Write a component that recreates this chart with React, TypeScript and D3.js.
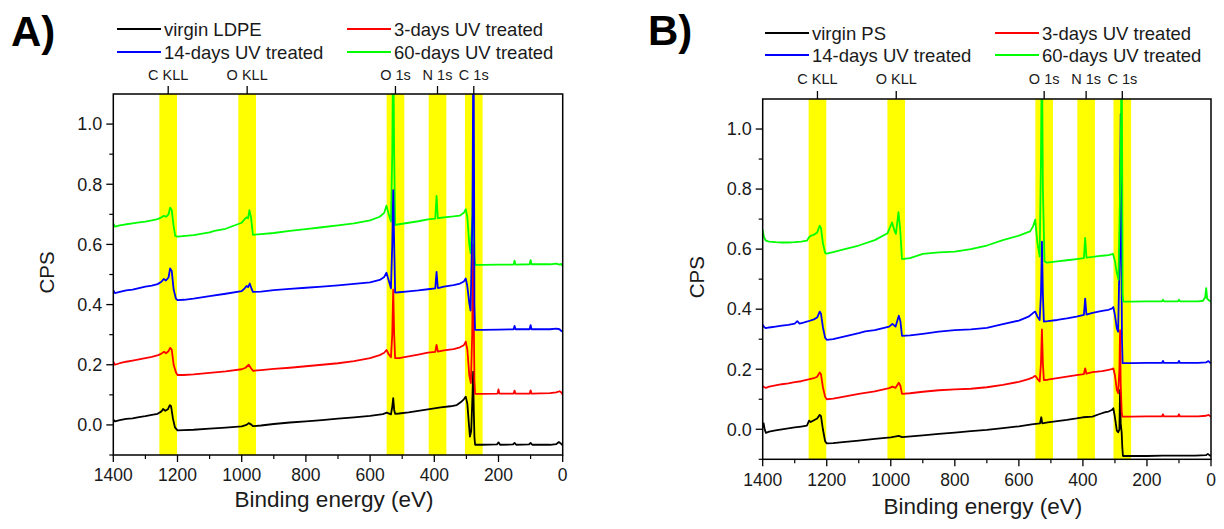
import React from "react";
import * as d3 from "d3";

type P = [number, number];

// ---------- Panel A: LDPE ----------
const ldpeVirgin: P[] = [[1400,0.018],[1395,0.012],[1380,0.016],[1360,0.02],[1340,0.022],[1320,0.026],[1300,0.029],[1280,0.033],[1262,0.037],[1250,0.045],[1245,0.053],[1238,0.047],[1230,0.052],[1224,0.066],[1220,0.062],[1214,0.02],[1208,-0.008],[1200,-0.018],[1180,-0.017],[1150,-0.016],[1100,-0.012],[1050,-0.009],[1000,-0.005],[985,0.0],[978,0.006],[970,0.001],[965,-0.004],[940,-0.002],[900,0.003],[850,0.008],[800,0.012],[750,0.016],[700,0.021],[650,0.025],[600,0.03],[560,0.036],[548,0.041],[535,0.035],[531,0.06],[528,0.089],[525,0.05],[522,0.037],[510,0.038],[480,0.042],[450,0.047],[420,0.052],[400,0.055],[380,0.058],[350,0.062],[330,0.066],[318,0.075],[308,0.085],[302,0.094],[297,0.07],[292,0.0],[289,-0.039],[285,-0.02],[281,0.1],[279,0.177],[277,0.05],[275,-0.04],[273,-0.066],[250,-0.066],[205,-0.065],[200,-0.058],[195,-0.066],[155,-0.065],[150,-0.06],[145,-0.066],[105,-0.065],[100,-0.06],[95,-0.066],[40,-0.066],[20,-0.064],[12,-0.057],[8,-0.06],[0,-0.068]];
const ldpeUv3: P[] = [[1400,0.21],[1395,0.2],[1380,0.205],[1360,0.21],[1340,0.214],[1320,0.218],[1300,0.222],[1280,0.226],[1260,0.232],[1250,0.237],[1242,0.243],[1236,0.238],[1228,0.245],[1223,0.256],[1218,0.25],[1212,0.2],[1205,0.175],[1200,0.166],[1180,0.166],[1150,0.168],[1100,0.173],[1050,0.178],[1000,0.185],[988,0.19],[978,0.2],[972,0.19],[965,0.18],[940,0.182],[900,0.186],[850,0.19],[800,0.195],[750,0.2],[700,0.205],[650,0.212],[600,0.222],[570,0.232],[556,0.24],[549,0.249],[542,0.235],[535,0.225],[531,0.3],[528,0.45],[525,0.3],[522,0.222],[510,0.222],[480,0.228],[450,0.234],[420,0.24],[397,0.243],[393,0.266],[389,0.244],[370,0.248],[340,0.252],[320,0.258],[308,0.265],[302,0.277],[297,0.25],[291,0.165],[286,0.139],[282,0.3],[279,0.6],[277,0.35],[275,0.15],[273,0.103],[250,0.103],[203,0.104],[200,0.118],[197,0.104],[153,0.104],[150,0.114],[147,0.104],[103,0.104],[100,0.115],[97,0.104],[40,0.106],[20,0.108],[10,0.112],[4,0.108],[0,0.1]];
const ldpeUv14: P[] = [[1400,0.448],[1395,0.438],[1380,0.442],[1360,0.447],[1340,0.45],[1320,0.455],[1300,0.46],[1280,0.463],[1262,0.468],[1250,0.476],[1243,0.485],[1236,0.48],[1228,0.49],[1223,0.52],[1218,0.512],[1212,0.45],[1205,0.42],[1200,0.415],[1180,0.416],[1150,0.42],[1100,0.428],[1050,0.436],[1000,0.445],[990,0.455],[985,0.462],[980,0.458],[975,0.47],[970,0.455],[965,0.442],[940,0.443],[900,0.448],[850,0.452],[800,0.456],[750,0.46],[700,0.464],[650,0.469],[600,0.474],[570,0.482],[556,0.492],[549,0.506],[542,0.48],[535,0.454],[531,0.6],[528,0.78],[525,0.6],[522,0.44],[510,0.441],[480,0.444],[450,0.447],[420,0.451],[397,0.454],[393,0.509],[389,0.455],[370,0.46],[340,0.465],[320,0.47],[308,0.477],[302,0.487],[297,0.46],[291,0.405],[287,0.38],[281,0.7],[278,1.4],[276,0.8],[275,0.4],[273,0.316],[250,0.316],[200,0.317],[153,0.318],[150,0.329],[147,0.318],[103,0.318],[100,0.332],[97,0.318],[40,0.318],[20,0.32],[10,0.318],[4,0.312],[0,0.31]];
const ldpeUv60: P[] = [[1400,0.67],[1395,0.659],[1380,0.663],[1360,0.667],[1340,0.67],[1320,0.673],[1300,0.676],[1280,0.68],[1262,0.684],[1250,0.69],[1242,0.695],[1235,0.692],[1228,0.7],[1223,0.722],[1218,0.714],[1212,0.66],[1207,0.628],[1200,0.626],[1150,0.631],[1100,0.64],[1085,0.645],[1050,0.652],[1000,0.672],[990,0.685],[985,0.69],[980,0.687],[976,0.714],[971,0.69],[965,0.632],[940,0.634],[900,0.638],[850,0.645],[800,0.651],[750,0.657],[700,0.663],[650,0.67],[600,0.68],[570,0.692],[556,0.705],[549,0.729],[542,0.7],[535,0.676],[531,0.9],[528,1.3],[525,0.9],[522,0.665],[510,0.667],[480,0.672],[450,0.677],[420,0.683],[397,0.686],[393,0.761],[389,0.687],[370,0.69],[340,0.693],[320,0.696],[308,0.705],[302,0.717],[297,0.69],[291,0.6],[287,0.571],[281,0.7],[279,0.9],[277,0.7],[275,0.56],[273,0.532],[250,0.532],[200,0.533],[153,0.533],[150,0.546],[147,0.533],[103,0.534],[100,0.548],[97,0.534],[40,0.534],[20,0.536],[10,0.533],[4,0.535],[0,0.528]];

// ---------- Panel B: PS ----------
const psVirgin: P[] = [[1400,0.005],[1397,0.02],[1394,0.0],[1390,-0.012],[1380,-0.008],[1360,-0.004],[1340,0.0],[1320,0.003],[1300,0.006],[1280,0.009],[1262,0.012],[1255,0.029],[1250,0.024],[1240,0.03],[1230,0.036],[1222,0.048],[1218,0.044],[1212,0.0],[1205,-0.04],[1200,-0.047],[1180,-0.046],[1150,-0.043],[1100,-0.038],[1050,-0.032],[1000,-0.027],[975,-0.022],[965,-0.026],[900,-0.02],[850,-0.015],[800,-0.011],[750,-0.006],[700,-0.002],[650,0.004],[600,0.01],[560,0.016],[534,0.02],[530,0.04],[527,0.02],[510,0.023],[480,0.027],[450,0.031],[420,0.036],[400,0.04],[370,0.042],[350,0.05],[330,0.057],[320,0.059],[310,0.064],[305,0.07],[300,0.04],[294,-0.005],[290,-0.01],[286,0.0],[284,0.131],[282,0.02],[279,-0.01],[277,-0.06],[275,-0.089],[250,-0.089],[200,-0.089],[150,-0.088],[100,-0.088],[50,-0.088],[15,-0.086],[10,-0.082],[5,-0.086],[0,-0.089]];
const psUv3: P[] = [[1400,0.144],[1395,0.14],[1390,0.138],[1380,0.142],[1360,0.146],[1340,0.15],[1320,0.153],[1300,0.157],[1280,0.16],[1260,0.165],[1240,0.17],[1230,0.175],[1222,0.189],[1218,0.183],[1212,0.14],[1205,0.108],[1200,0.1],[1180,0.102],[1150,0.108],[1100,0.118],[1050,0.126],[1005,0.137],[995,0.142],[985,0.138],[975,0.155],[970,0.145],[965,0.118],[940,0.12],[900,0.125],[850,0.13],[800,0.133],[750,0.135],[700,0.14],[650,0.148],[600,0.158],[570,0.167],[556,0.173],[549,0.178],[542,0.168],[535,0.159],[531,0.22],[528,0.333],[525,0.22],[522,0.164],[510,0.165],[480,0.17],[450,0.175],[420,0.18],[397,0.184],[393,0.203],[389,0.185],[370,0.19],[340,0.194],[320,0.198],[310,0.2],[305,0.203],[300,0.18],[294,0.13],[290,0.12],[286,0.2],[284,0.33],[282,0.15],[279,0.06],[277,0.042],[250,0.042],[200,0.043],[153,0.043],[150,0.05],[147,0.043],[103,0.043],[100,0.05],[97,0.043],[40,0.043],[15,0.045],[8,0.048],[3,0.044],[0,0.042]];
const psUv14: P[] = [[1400,0.348],[1395,0.34],[1390,0.337],[1380,0.339],[1360,0.342],[1340,0.345],[1320,0.348],[1300,0.352],[1292,0.36],[1285,0.352],[1270,0.356],[1260,0.359],[1240,0.366],[1230,0.372],[1222,0.392],[1218,0.385],[1212,0.34],[1205,0.305],[1200,0.298],[1180,0.3],[1150,0.308],[1100,0.32],[1080,0.326],[1050,0.33],[1005,0.342],[995,0.351],[985,0.342],[975,0.378],[970,0.36],[965,0.311],[940,0.313],[900,0.318],[850,0.325],[800,0.33],[750,0.333],[700,0.338],[650,0.35],[600,0.362],[570,0.375],[556,0.387],[549,0.392],[542,0.375],[535,0.364],[531,0.45],[528,0.625],[525,0.45],[522,0.359],[510,0.36],[480,0.364],[450,0.369],[420,0.375],[397,0.381],[393,0.435],[389,0.382],[370,0.388],[340,0.394],[320,0.398],[310,0.402],[305,0.407],[300,0.38],[294,0.335],[290,0.325],[285,0.6],[282,1.05],[280,0.6],[278,0.3],[276,0.22],[250,0.22],[200,0.221],[153,0.221],[150,0.228],[147,0.221],[103,0.221],[100,0.228],[97,0.221],[40,0.221],[15,0.223],[8,0.227],[3,0.222],[0,0.22]];
const psUv60: P[] = [[1400,0.664],[1396,0.64],[1390,0.628],[1380,0.625],[1360,0.623],[1340,0.622],[1320,0.622],[1300,0.623],[1280,0.625],[1262,0.628],[1255,0.64],[1248,0.645],[1240,0.648],[1230,0.655],[1222,0.678],[1218,0.67],[1212,0.62],[1205,0.587],[1200,0.585],[1180,0.59],[1150,0.598],[1100,0.612],[1050,0.63],[1010,0.653],[996,0.689],[988,0.66],[984,0.651],[976,0.723],[971,0.67],[965,0.567],[940,0.57],[900,0.584],[850,0.589],[800,0.592],[750,0.6],[700,0.612],[650,0.63],[600,0.645],[565,0.659],[556,0.675],[549,0.698],[542,0.62],[535,0.575],[531,0.9],[528,1.3],[525,0.8],[520,0.56],[513,0.555],[480,0.559],[450,0.563],[420,0.567],[397,0.57],[393,0.637],[389,0.572],[370,0.574],[340,0.578],[320,0.58],[306,0.584],[300,0.56],[294,0.52],[289,0.498],[282,0.9],[279,1.3],[277,0.8],[276,0.45],[274,0.425],[250,0.425],[200,0.426],[153,0.426],[150,0.432],[147,0.426],[103,0.426],[100,0.432],[97,0.426],[40,0.426],[25,0.428],[18,0.44],[15,0.47],[12,0.435],[5,0.428],[0,0.425]];

// ---------- shared ----------
const peakLabels = ["C KLL", "O KLL", "O 1s", "N 1s", "C 1s"];
const peakCenters = [1229, 983, 521, 390, 277];
const bandHalfWidth = 27.5;
const xMajorTicks = [1400, 1200, 1000, 800, 600, 400, 200, 0];
const xMinorTicks = [1300, 1100, 900, 700, 500, 300, 100];
const yMajorTicks = [0.0, 0.2, 0.4, 0.6, 0.8, 1.0];
const yMinorTicks = [-0.1, 0.1, 0.3, 0.5, 0.7, 0.9];
const xDomain: [number, number] = [1400, 0];
const yDomain: [number, number] = [-0.1, 1.1];

const legendA = ["virgin LDPE", "3-days UV treated", "14-days UV treated", "60-days UV treated"];
const legendB = ["virgin PS", "3-days UV treated", "14-days UV treated", "60-days UV treated"];
const colors = ["#000000", "#ff0000", "#0000ff", "#00ff00"];

const FONT = "'Liberation Sans', Arial, Helvetica, sans-serif";

type PanelProps = {
  id: string;
  letter: string;
  series: P[][];
  order: number[];
  legend: string[];
  box: { l: number; r: number; t: number; b: number };
  letterPos: [number, number];
  legendRows: [number, number];
  legendCols: [number, number];
  labelY: number;
  xLabelY: number;
  titleY: number;
  cpsX: number;
};

function Panel(p: PanelProps) {
  const { box } = p;
  const x = d3.scaleLinear().domain(xDomain).range([box.l, box.r]);
  const y = d3.scaleLinear().domain(yDomain).range([box.b, box.t]);
  const line = d3
    .line<P>()
    .x((d) => x(d[0]))
    .y((d) => y(d[1]));
  const clipId = `clip-${p.id}`;
  const fmt = d3.format(".1f");
  return (
    <g>
      <defs>
        <clipPath id={clipId}>
          <rect x={box.l} y={box.t} width={box.r - box.l} height={box.b - box.t} />
        </clipPath>
      </defs>
      <text x={p.letterPos[0]} y={p.letterPos[1]} fontFamily={FONT} fontWeight="bold" fontSize={42}>
        {p.letter}
      </text>
      {p.legend.map((name, i) => {
        const cx = p.legendCols[i % 2];
        const cy = p.legendRows[Math.floor(i / 2)];
        return (
          <g key={name + i}>
            <line x1={cx} x2={cx + 44} y1={cy} y2={cy} stroke={colors[i]} strokeWidth={1.8} />
            <text x={cx + 47} y={cy + 6.5} fontFamily={FONT} fontSize={18.5} fill="#1a1a1a">
              {name}
            </text>
          </g>
        );
      })}
      {peakCenters.map((c, i) => (
        <rect
          key={"band" + i}
          x={x(c + bandHalfWidth)}
          y={box.t}
          width={x(c - bandHalfWidth) - x(c + bandHalfWidth)}
          height={box.b - box.t}
          fill="#ffff00"
        />
      ))}
      <g clipPath={`url(#${clipId})`}>
        {p.order.map((i) => (
          <path key={"s" + i} d={line(p.series[i]) || ""} fill="none" stroke={colors[i]} strokeWidth={1.8} strokeLinejoin="round" />
        ))}
      </g>
      <rect x={box.l} y={box.t} width={box.r - box.l} height={box.b - box.t} fill="none" stroke="#000" strokeWidth={1.5} />
      {peakCenters.map((c, i) => (
        <g key={"pk" + i}>
          <line x1={x(c)} x2={x(c)} y1={box.t} y2={box.t - 8} stroke="#000" strokeWidth={1.3} />
          <text x={x(c)} y={p.labelY} textAnchor="middle" fontFamily={FONT} fontSize={14.5} fill="#1a1a1a">
            {peakLabels[i]}
          </text>
        </g>
      ))}
      {xMajorTicks.map((t) => (
        <g key={"xt" + t}>
          <line x1={x(t)} x2={x(t)} y1={box.b} y2={box.b + 7} stroke="#000" strokeWidth={1.3} />
          <text x={x(t)} y={p.xLabelY} textAnchor="middle" fontFamily={FONT} fontSize={17.5} fill="#1a1a1a">
            {t}
          </text>
        </g>
      ))}
      {xMinorTicks.map((t) => (
        <line key={"xm" + t} x1={x(t)} x2={x(t)} y1={box.b} y2={box.b + 4} stroke="#000" strokeWidth={1.2} />
      ))}
      <text x={(box.l + box.r) / 2 - 4} y={p.titleY} textAnchor="middle" fontFamily={FONT} fontSize={22.5} fill="#1a1a1a">
        Binding energy (eV)
      </text>
      {yMajorTicks.map((t) => (
        <g key={"yt" + t}>
          <line x1={box.l} x2={box.l - 7} y1={y(t)} y2={y(t)} stroke="#000" strokeWidth={1.3} />
          <text x={box.l - 11} y={y(t) + 6.3} textAnchor="end" fontFamily={FONT} fontSize={18} fill="#1a1a1a">
            {fmt(t)}
          </text>
        </g>
      ))}
      {yMinorTicks.map((t) => (
        <line key={"ym" + t} x1={box.l} x2={box.l - 4} y1={y(t)} y2={y(t)} stroke="#000" strokeWidth={1.2} />
      ))}
      <text
        transform={`translate(${p.cpsX},${(box.t + box.b) / 2 - 2}) rotate(-90)`}
        textAnchor="middle"
        fontFamily={FONT}
        fontSize={20.5}
        fill="#1a1a1a"
      >
        CPS
      </text>
    </g>
  );
}

export default function App() {
  return (
    <svg
      width={1224}
      height={529}
      viewBox="0 0 1224 529"
      style={{ position: "absolute", left: 0, top: 0, background: "#fff" }}
    >
      <rect x={0} y={0} width={1224} height={529} fill="#fff" />
      <Panel
        id="A"
        letter="A)"
        series={[ldpeVirgin, ldpeUv3, ldpeUv14, ldpeUv60]}
        order={[0, 1, 3, 2]}
        legend={legendA}
        box={{ l: 113.3, r: 562.7, t: 94, b: 455 }}
        letterPos={[11, 46]}
        legendRows={[29, 52]}
        legendCols={[117, 347]}
        labelY={80}
        xLabelY={481}
        titleY={507}
        cpsX={54}
      />
      <Panel
        id="B"
        letter="B)"
        series={[psVirgin, psUv3, psUv14, psUv60]}
        order={[0, 1, 2, 3]}
        legend={legendB}
        box={{ l: 762.7, r: 1211, t: 99, b: 459.3 }}
        letterPos={[648, 45]}
        legendRows={[33, 55]}
        legendCols={[765, 995]}
        labelY={84}
        xLabelY={486}
        titleY={514}
        cpsX={704}
      />
    </svg>
  );
}
